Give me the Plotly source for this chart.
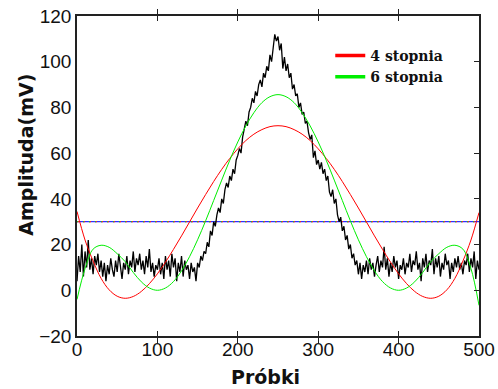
import plotly.graph_objects as go

# ---- data ----
samples = list(range(0, 501, 2))
signal = [
    # 0 .. 148
    4, 15, 8, 20, 6, 17, 10, 22, 9, 14, 7, 15, 11, 16, 8, 13, 6, 12, 4, 11,
    7, 14, 9, 6, 13, 8, 16, 10, 5, 12, 9, 15, 7, 13, 10, 17, 8, 14, 11, 16,
    9, 13, 7, 15, 10, 18, 8, 12, 6, 11, 9, 14, 7, 12, 5, 15, 9, 13, 6, 16,
    10, 14, 4, 12, 8, 15, 6, 13, 9, 11, 5, 12, 8, 10, 4,
    # 150 .. 248
    12, 10, 15, 13, 17, 16, 21, 19, 26, 24, 30, 28, 33, 36, 34, 40, 38, 44, 47, 45,
    50, 48, 53, 51, 57, 59, 62, 60, 67, 70, 74, 72, 78, 80, 84, 82, 87, 85, 90, 92,
    89, 95, 93, 98, 96, 103, 100, 106, 112, 109,
    # 250 .. 358
    111, 105, 108, 97, 102, 96, 99, 93, 95, 88, 90, 85, 86, 80, 82, 77, 78, 73, 74, 69,
    66, 68, 58, 61, 55, 57, 53, 56, 51, 53, 48, 50, 43, 41, 44, 38, 40, 33, 30, 32,
    26, 28, 22, 24, 18, 20, 14, 16, 11, 13, 7, 12, 5, 11, 8,
    # 360 .. 500
    13, 7, 14, 9, 12, 6, 11, 15, 8, 13, 10, 19, 9, 14, 6, 12, 8, 15, 10, 13,
    5, 11, 9, 14, 7, 12, 10, 16, 8, 13, 11, 17, 9, 12, 4, 14, 10, 16, 8, 13,
    11, 18, 7, 14, 10, 15, 6, 12, 9, 16, 11, 13, 5, 12, 8, 14, 10, 15, 9, 12,
    7, 13, 11, 16, 8, 14, 10, 17, 5, 13, 9,
]

fit_x = list(range(0, 501, 10))
fit4 = [
    34.5, 22.0, 12.8, 5.2, 0.2, -2.6, -3.5, -2.7, -0.5, 2.9,
    7.2, 12.3, 17.9, 23.8, 29.9, 36.0, 41.9, 47.6, 52.9, 57.7,
    61.9, 65.5, 68.3, 70.3, 71.6, 72.0, 71.6, 70.3, 68.3, 65.5,
    61.9, 57.7, 52.9, 47.6, 41.9, 36.0, 29.9, 23.8, 17.9, 12.3,
    7.2, 2.9, -0.5, -2.7, -3.5, -2.6, 0.2, 5.2, 12.8, 22.0, 34.0,
]
fit6 = [
    -4.0, 9.5, 18.0, 19.7, 18.8, 16.0, 12.5, 7.8, 3.7, 1.0,
    0.0, 1.0, 3.8, 8.5, 14.7, 22.1, 30.4, 39.3, 48.2, 56.9,
    64.9, 71.9, 77.7, 82.1, 84.7, 85.6, 84.7, 82.1, 77.7, 71.9,
    64.9, 56.9, 48.2, 39.3, 30.4, 22.1, 14.7, 8.5, 3.8, 1.0,
    0.0, 1.0, 3.7, 7.8, 12.5, 16.0, 18.8, 19.7, 18.0, 9.5, -6.6,
]
threshold = 30
threshold_x = [0, 500]

x_ticks = [0, 100, 200, 300, 400, 500]
y_ticks = [-20, 0, 20, 40, 60, 80, 100, 120]

names = ["4 stopnia", "6 stopnia"]

fig = go.Figure()

# threshold line (overlapping coloured dashes)
fig.add_trace(go.Scatter(x=threshold_x, y=[threshold] * 2, mode="lines",
                         line=dict(color="#3030ff", width=1.2), showlegend=False, hoverinfo="skip"))
fig.add_trace(go.Scatter(x=threshold_x, y=[threshold] * 2, mode="lines",
                         line=dict(color="#ff2020", width=1.2, dash="2px,4px"), showlegend=False, hoverinfo="skip"))
fig.add_trace(go.Scatter(x=threshold_x, y=[threshold] * 2, mode="lines",
                         line=dict(color="#20c020", width=1.2, dash="1px,5px"), showlegend=False, hoverinfo="skip"))

# noisy signal
fig.add_trace(go.Scatter(x=samples, y=signal, mode="lines",
                         line=dict(color="black", width=1.3), showlegend=False))

# polynomial fits
fig.add_trace(go.Scatter(x=fit_x, y=fit4, mode="lines", line_shape="spline",
                         line=dict(color="#ff0000", width=1), showlegend=False))
fig.add_trace(go.Scatter(x=fit_x, y=fit6, mode="lines", line_shape="spline",
                         line=dict(color="#00ee00", width=1), showlegend=False))

# legend entries (thicker sample lines)
fig.add_trace(go.Scatter(x=[None], y=[None], mode="lines",
                         line=dict(color="#ff0000", width=3.5), name=names[0]))
fig.add_trace(go.Scatter(x=[None], y=[None], mode="lines",
                         line=dict(color="#00ee00", width=3.5), name=names[1]))

# helper for right-side ticks
fig.add_trace(go.Scatter(x=[None], y=[None], yaxis="y2", showlegend=False))

axis_col = "#222222"
tick_font = dict(family="Liberation Sans, Arial, sans-serif", size=19, color="#111111")

fig.update_layout(
    template="none",
    width=498, height=389,
    margin=dict(l=77, r=19, t=16, b=53, autoexpand=False),
    paper_bgcolor="white", plot_bgcolor="white",
    showlegend=True,
    legend=dict(x=0.630, y=0.925, xanchor="left", yanchor="top",
                bgcolor="rgba(0,0,0,0)", borderwidth=0,
                font=dict(family="DejaVu Serif", size=14, color="#111111", weight="bold"),
                tracegroupgap=0),
    xaxis=dict(range=[0, 500], tickvals=x_ticks, showgrid=False, zeroline=False,
               automargin=False, ticklabelstandoff=-5,
               showline=True, linecolor=axis_col, linewidth=1.5, mirror="allticks",
               ticks="inside", ticklen=5, tickwidth=1.3, tickcolor=axis_col,
               tickfont=tick_font),
    yaxis=dict(range=[-20, 120], tickvals=y_ticks, showgrid=False, zeroline=False,
               automargin=False,
               showline=True, linecolor=axis_col, linewidth=1.5, mirror=True,
               ticks="", tickfont=tick_font),
    yaxis2=dict(range=[-20, 120], tickvals=y_ticks, overlaying="y", side="right",
                anchor="x", showgrid=False, zeroline=False, showline=False,
                automargin=False,
                ticks="inside", ticklen=5, tickwidth=1.3, tickcolor=axis_col,
                showticklabels=False),
    annotations=[
        dict(text="Amplituda(mV)", xref="paper", yref="paper",
             x=-0.129, y=0.567, xanchor="center", yanchor="middle", textangle=-90,
             showarrow=False,
             font=dict(family="DejaVu Sans", size=19, color="#111111", weight="bold")),
        dict(text="Próbki", xref="paper", yref="paper",
             x=0.468, y=-0.128, xanchor="center", yanchor="middle",
             showarrow=False,
             font=dict(family="DejaVu Sans", size=19, color="#111111", weight="bold")),
    ],
)

# remove the default page margin so the figure starts at the window corner
fig.write_html("out.html", config={"displayModeBar": False},
               post_script="document.body.style.margin='0px';")
